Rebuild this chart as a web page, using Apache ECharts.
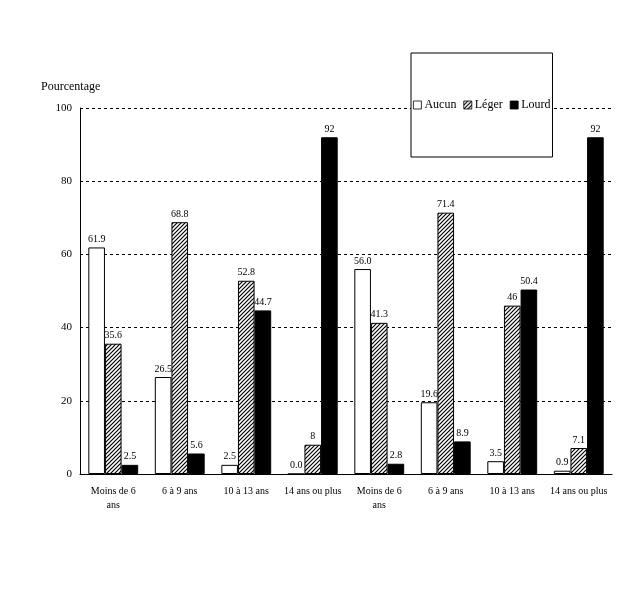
<!DOCTYPE html>
<html>
<head>
<meta charset="utf-8">
<script src="https://cdn.jsdelivr.net/npm/echarts@6/dist/echarts.min.js"></script>
<style>
html, body { margin: 0; padding: 0; background: #fff; }
#chart { width: 618px; height: 604px; }
</style>
</head>
<body>
<div id="chart"></div>
<script>
var categories = ["Moins de 6\nans", "6 à 9 ans", "10 à 13 ans", "14 ans ou plus",
                  "Moins de 6\nans", "6 à 9 ans", "10 à 13 ans", "14 ans ou plus"];
var aucun = [61.9, 26.5, 2.5, 0.0, 56.0, 19.6, 3.5, 0.9];
var leger = [35.6, 68.8, 52.8, 8, 41.3, 71.4, 46, 7.1];
var lourd = [2.5, 5.6, 44.7, 92, 2.8, 8.9, 50.4, 92];
var aucunLabels = ["61.9", "26.5", "2.5", "0.0", "56.0", "19.6", "3.5", "0.9"];
var legerLabels = ["35.6", "68.8", "52.8", "8", "41.3", "71.4", "46", "7.1"];
var lourdLabels = ["2.5", "5.6", "44.7", "92", "2.8", "8.9", "50.4", "92"];

var font = "Liberation Serif";

// diagonal hatch for "Léger"
function hatch() {
    var c = document.createElement("canvas");
    c.width = 4; c.height = 4;
    var g = c.getContext("2d");
    g.fillStyle = "#fff";
    g.fillRect(0, 0, 4, 4);
    g.strokeStyle = "#000";
    g.lineWidth = 1.2;
    g.beginPath();
    g.moveTo(0, 4); g.lineTo(4, 0);
    g.moveTo(-1, 1); g.lineTo(1, -1);
    g.moveTo(3, 5); g.lineTo(5, 3);
    g.stroke();
    return c;
}

function withLabels(vals, labels) {
    return vals.map(function(v, i) {
        return { value: v, label: { formatter: labels[i] } };
    });
}

var labelStyle = { show: true, position: "top", distance: 3, fontFamily: font, fontSize: 10, color: "#000" };

var chart = echarts.init(document.getElementById("chart"));
chart.setOption({
    animation: false,
    backgroundColor: "#fff",
    textStyle: { fontFamily: font },
    grid: { left: 80, right: 6, top: 108, bottom: 130, containLabel: false },
    title: {
        text: "Pourcentage", left: 36, top: 76,
        textStyle: { fontFamily: font, fontSize: 12, fontWeight: "normal", color: "#000" }
    },
    legend: {
        left: 411, top: 53,
        padding: [46, 2, 46, 2],
        icon: "rect",
        itemWidth: 8, itemHeight: 8, itemGap: 7,
        itemStyle: { borderWidth: 0.8 },
        borderColor: "#000", borderWidth: 1, backgroundColor: "#fff",
        textStyle: { fontFamily: font, fontSize: 12, color: "#000", padding: [0, 0, 0, -2] },
        data: ["Aucun", "Léger", "Lourd"]
    },
    xAxis: {
        type: "category",
        data: categories,
        axisLine: { lineStyle: { color: "#000", width: 1 } },
        axisTick: { show: false },
        axisLabel: { fontFamily: font, fontSize: 10, color: "#000", margin: 10, interval: 0, lineHeight: 14 }
    },
    yAxis: {
        type: "value", min: 0, max: 100, interval: 20,
        axisLine: { show: true, lineStyle: { color: "#000", width: 1 } },
        axisTick: { show: false },
        axisLabel: { fontFamily: font, fontSize: 11, color: "#000", margin: 8 },
        splitLine: { lineStyle: { color: "#000", type: [3, 3], width: 1 } }
    },
    series: [
        {
            name: "Aucun", type: "bar", barGap: "0%", barCategoryGap: "25%",
            data: withLabels(aucun, aucunLabels),
            itemStyle: { color: "#fff", borderColor: "#000", borderWidth: 1 },
            label: labelStyle
        },
        {
            name: "Léger", type: "bar", barGap: "0%", barCategoryGap: "25%",
            data: withLabels(leger, legerLabels),
            itemStyle: { color: { image: hatch(), repeat: "repeat" }, borderColor: "#000", borderWidth: 1 },
            label: labelStyle
        },
        {
            name: "Lourd", type: "bar", barGap: "0%", barCategoryGap: "25%",
            data: withLabels(lourd, lourdLabels),
            itemStyle: { color: "#000", borderColor: "#000", borderWidth: 1 },
            label: labelStyle
        }
    ]
});
</script>
</body>
</html>
